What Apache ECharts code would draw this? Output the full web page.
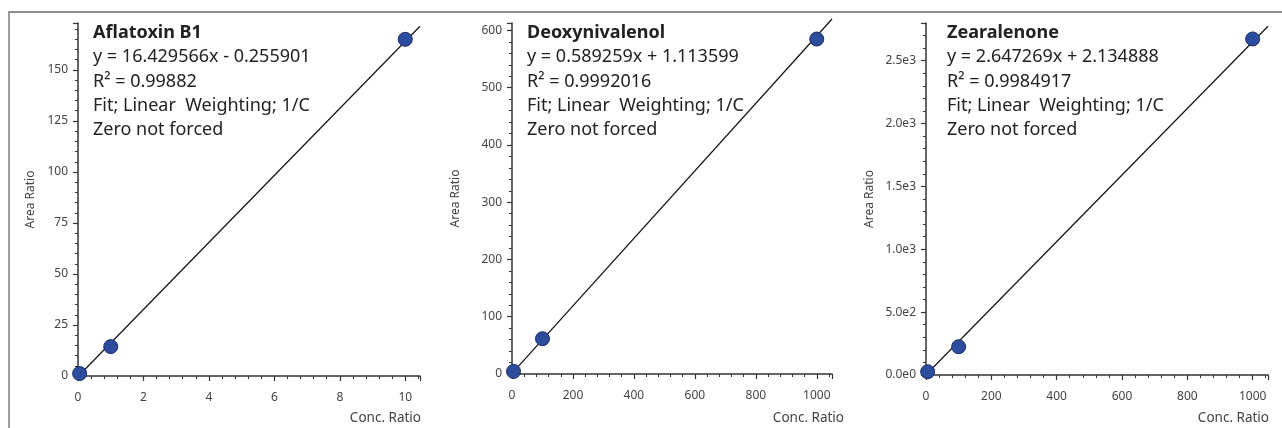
<!DOCTYPE html>
<html>
<head>
<meta charset="utf-8">
<title>Calibration curves</title>
<script src="https://cdn.jsdelivr.net/npm/echarts@6.0.0/dist/echarts.min.js"></script>
<style>
html, body { margin: 0; padding: 0; background: #fff; }
#chart { width: 1282px; height: 428px; }
</style>
</head>
<body>
<div id="chart"></div>
<script>
// Aflatoxin B1
var concAflatoxin = [0.05, 1, 10];
var areaAflatoxin = [1.2, 14.4, 165];
var fitAflatoxin = [[0, -0.26], [10.45, 171.4]];
// Deoxynivalenol
var concDon = [5, 100, 1000];
var areaDon = [4.5, 61.6, 585];
var fitDon = [[0, 1.1], [1050, 620]];
// Zearalenone
var concZea = [5, 100, 1000];
var areaZea = [26, 225, 2673];
var fitZea = [[0, 2.1], [1047, 2774]];

var compoundNames = ['Aflatoxin B1', 'Deoxynivalenol', 'Zearalenone'];
var equations = ['y = 16.429566x - 0.255901', 'y = 0.589259x + 1.113599', 'y = 2.647269x + 2.134888'];
var rSquared = ['R² = 0.99882', 'R² = 0.9992016', 'R² = 0.9984917'];
var fitNote = 'Fit; Linear  Weighting; 1/C';
var zeroNote = 'Zero not forced';

// axis ranges
var xMax = [10.45, 1050, 1047];
var xStep = [2, 200, 200];
var yMax = [173, 613, 2800];
var yStep = [25, 100, 500];

(function() {
    var chart = echarts.init(document.getElementById('chart'));
    var fontFamily = '"Noto Sans", "Open Sans", sans-serif';
    var axisColor = '#333',
        labelColor = '#444';

    var grids = [
        { left: 78, top: 23, width: 342, height: 353 },
        { left: 512, top: 23, width: 320, height: 351 },
        { left: 926, top: 23, width: 342, height: 352 }
    ];
    var textLeft = [93, 527, 947]; //注释文字
    var yNameGap = [41, 50, 50];

    var points = [
        concAflatoxin.map(function(c, i) { return [c, areaAflatoxin[i]]; }),
        concDon.map(function(c, i) { return [c, areaDon[i]]; }),
        concZea.map(function(c, i) { return [c, areaZea[i]]; })
    ];
    var fits = [fitAflatoxin, fitDon, fitZea];

    var plainLabel = function(v) {
        return String(v);
    };
    var sciLabel = function(v) {
        return v.toExponential(1).replace('+', '');
    };

    var getAxis = function(idx, isX) {
        return {
            type: 'value',
            gridIndex: idx,
            min: 0,
            max: isX ? xMax[idx] : yMax[idx],
            interval: isX ? xStep[idx] : yStep[idx],
            splitLine: { show: false },
            axisLine: { onZero: false, lineStyle: { color: axisColor, width: 1.5 } },
            axisTick: { length: 5, lineStyle: { color: axisColor, width: 1.2 } },
            minorTick: { show: true, splitNumber: 5, length: 3, lineStyle: { color: axisColor, width: 1 } },
            axisLabel: {
                color: labelColor,
                fontFamily: fontFamily,
                fontSize: 12,
                margin: isX ? 16 : 10,
                showMaxLabel: false,
                formatter: (!isX && idx === 2) ? sciLabel : plainLabel
            },
            name: isX ? '' : 'Area Ratio',
            nameLocation: 'middle',
            nameGap: yNameGap[idx],
            nameTextStyle: { color: labelColor, fontFamily: fontFamily, fontSize: 12 }
        };
    };

    var xAxes = [], yAxes = [], series = [], graphics = [];
    for (var i = 0; i < 3; i++) {
        xAxes.push(getAxis(i, true));
        yAxes.push(getAxis(i, false));
        series.push({
            type: 'line',
            xAxisIndex: i,
            yAxisIndex: i,
            data: fits[i],
            showSymbol: false,
            clip: false,
            silent: true,
            lineStyle: { color: '#111', width: 1.2 },
            z: 2
        });
        series.push({
            type: 'scatter',
            xAxisIndex: i,
            yAxisIndex: i,
            data: points[i],
            symbolSize: 14,
            clip: false,
            itemStyle: { color: '#2c4c9e', borderColor: '#1b2d62', borderWidth: 1, opacity: 1 },
            z: 3
        });

        var lines = [compoundNames[i], equations[i], rSquared[i], fitNote, zeroNote];
        for (var k = 0; k < lines.length; k++) {
            graphics.push({
                type: 'text',
                x: textLeft[i],
                y: 33 + k * 24.3,
                style: {
                    text: lines[k],
                    fill: '#222',
                    fontFamily: fontFamily,
                    fontSize: 18,
                    fontWeight: k === 0 ? 'bold' : 'normal',
                    align: 'left',
                    verticalAlign: 'middle'
                }
            });
        }
        graphics.push({
            type: 'text',
            x: grids[i].left + grids[i].width + (i === 1 ? 12 : 1),
            y: 418,
            style: {
                text: 'Conc. Ratio',
                fill: labelColor,
                fontFamily: fontFamily,
                fontSize: 13.5,
                align: 'right',
                verticalAlign: 'middle'
            }
        });
    }

    // 外框
    graphics.push({
        type: 'polyline',
        shape: { points: [[9, 428], [9, 12], [1282, 12]] },
        style: { stroke: '#6a6a6a', lineWidth: 1.3, fill: null },
        silent: true
    });

    chart.setOption({
        animation: false,
        backgroundColor: '#fff',
        grid: grids.map(function(g) {
            return { left: g.left, top: g.top, width: g.width, height: g.height, containLabel: false, outerBoundsMode: 'none' };
        }),
        xAxis: xAxes,
        yAxis: yAxes,
        series: series,
        graphic: graphics
    });
    window.addEventListener('resize', function() {
        chart.resize();
    });
})();
</script>
</body>
</html>
